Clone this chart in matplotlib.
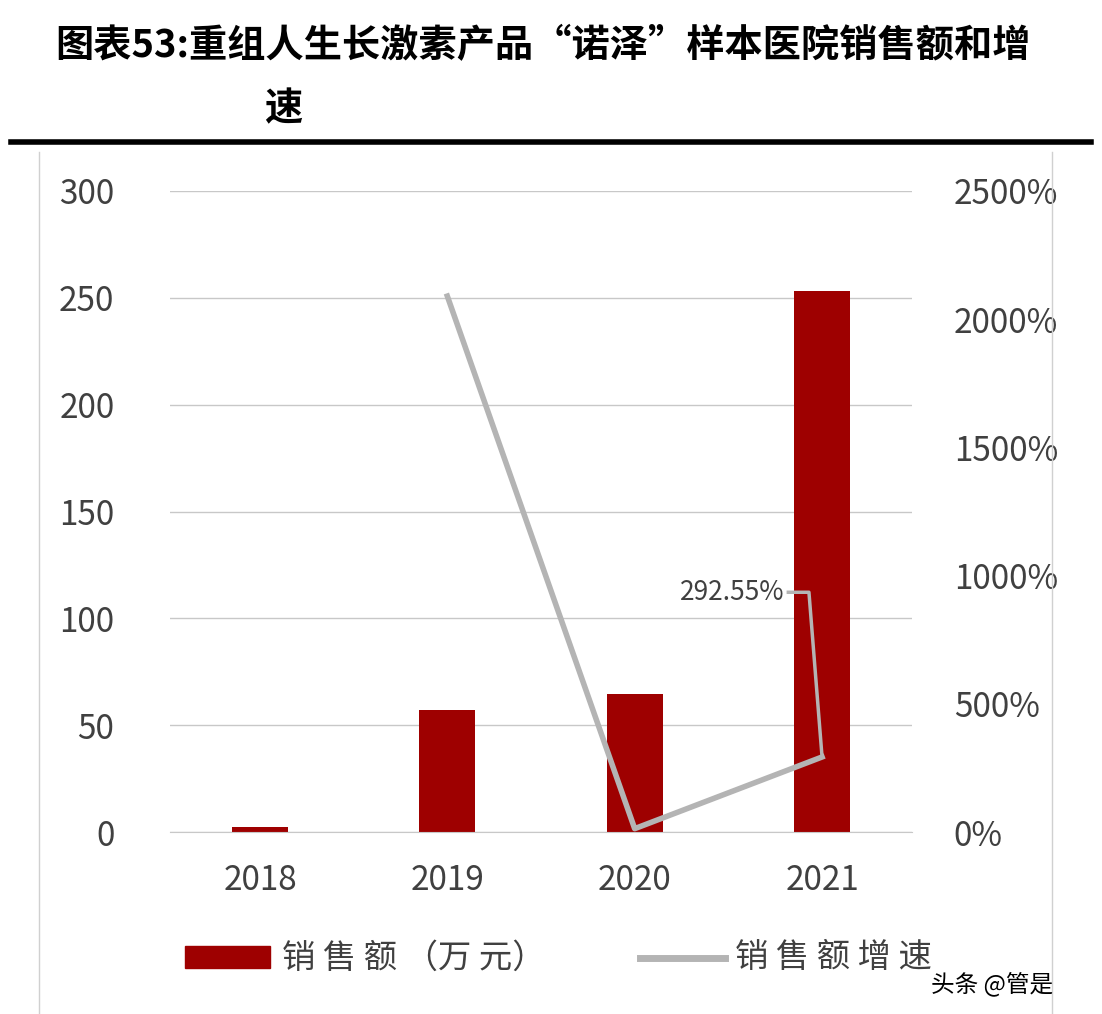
import matplotlib
matplotlib.use('Agg')
import matplotlib.pyplot as plt
from matplotlib.lines import Line2D
import numpy as np

plt.rcParams['font.family'] = ['Noto Sans CJK SC', 'DejaVu Sans']

years = ['2018', '2019', '2020', '2021']
sales = [2.5, 57, 64.5, 253]              # 万元
growth = [np.nan, 2090, 13, 292.55]       # %

red = '#9E0000'
gray = '#B4B4B4'

fig = plt.figure(figsize=(11.02, 10.14), dpi=100)
ax = fig.add_axes([170/1102, 1 - 832/1014, (912-170)/1102, (832-191)/1014])
x = np.arange(len(years))
ax.bar(x, sales, width=0.3, color=red, zorder=2)
ax.set_ylim(0, 300)
ax.set_xlim(-0.48, 3.48)
ax.set_yticks(range(0, 301, 50))
ax.grid(axis='y', color='#C8C8C8', lw=1, zorder=0)
ax.set_xticks(x, years)
for s in ['top', 'right', 'left']:
    ax.spines[s].set_visible(False)
ax.spines['bottom'].set_color('#C8C8C8')
ax.tick_params(length=0, labelsize=24, colors='#404040')
ax.tick_params(axis='y', pad=40)
ax.tick_params(axis='x', pad=22)

ax2 = ax.twinx()
ax2.plot(x, growth, color=gray, lw=4, zorder=3)
ax2.set_ylim(0, 2500)
ax2.set_yticks(range(0, 2501, 500), [f'{v}%' for v in range(0, 2501, 500)])
for s in ax2.spines.values():
    s.set_visible(False)
ax2.tick_params(length=0, labelsize=24, colors='#404040', pad=30)

# annotation for last growth point
ax2.plot([2.82, 2.93, 3.0], [935, 935, growth[3]], color=gray, lw=2.5)
ax2.text(2.8, 935, f'{growth[3]:.2f}%', ha='right', va='center', fontsize=19, color='#404040')

# title
fig.text(0.05, 0.955, '图表53:重组人生长激素产品“诺泽”样本医院销售额和增', fontsize=27.5,
         fontweight='bold', va='center')
fig.text(0.24, 0.893, '速', fontsize=27.5, fontweight='bold', va='center')
fig.add_artist(Line2D([0.01, 0.99], [0.86, 0.86], color='black', lw=4))
fig.add_artist(Line2D([0.035, 0.035], [0.0, 0.85], color='#D0D0D0', lw=1))
fig.add_artist(Line2D([0.955, 0.955], [0.0, 0.85], color='#D0D0D0', lw=1))

# legend
fig.patches.append(plt.Rectangle((185/1102, 1 - 968/1014), 85/1102, 22/1014,
                                 color=red, transform=fig.transFigure))
fig.text(282/1102, 1 - 958/1014, '销 售 额 （万 元）', fontsize=24, color='#404040', va='center')
fig.add_artist(Line2D([640/1102, 725/1102], [1 - 958/1014] * 2, color=gray, lw=5))
fig.text(735/1102, 1 - 958/1014, '销 售 额 增 速', fontsize=24, color='#404040', va='center')
fig.text(0.845, 0.03, '头条 @管是', fontsize=17, color='black', va='center')

fig.savefig('out.png', dpi=100)
